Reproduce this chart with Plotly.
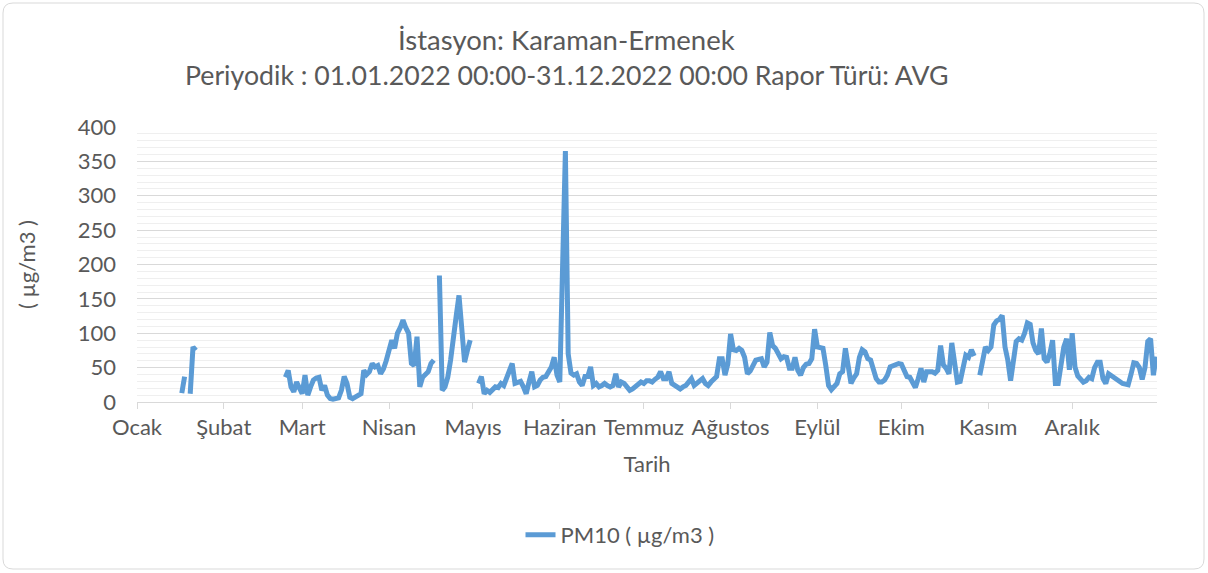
import pandas as pd
import plotly.graph_objects as go

# Daily PM10 averages for 2022 (None = no measurement)
ocak = [None]*16 + [13, 37, None, 12, 80, 75] + [None]*9
subat = [None]*22 + [36, 46, 22, 15, 29, 20]
mart = [12, 39, 10, 22, 32, 35, 36, 17, 24, 10, 5, 4, 5, 6, 17, 37, 27, 7, 5, 7,
        9, 12, 46, 40, 44, 56, 51, 53, 41, 48, 60]
nisan = [75, 90, 78, 100, 108, 119, 108, 100, 56, 53, 95, 22, 36, 41, 44, 56, 61, None, 184, 17,
         22, 36, 61, 99, 125, 155, 100, 58, 75, 90]
mayis = [None, None, 27, 37, 12, 17, 14, 18, 22, 21, 27, 24, 36, 49, 56, 27, 29, 30, 22, 12,
         29, 44, 22, 24, 32, 36, 37, 44, 51, 65, 39]
haziran = [29, 200, 365, 70, 42, 39, 41, 29, 24, 37, 37, 51, 24, 27, 22, 24, 27, 24, 22, 24,
           41, 22, 29, 27, 22, 17, 19, 22, 27, 29]
temmuz = [27, 31, 31, 29, 33, 36, 44, 34, 34, 44, 27, 24, 22, 19, 22, 24, 29, 34, 24, 27,
          29, 34, 27, 24, 29, 34, 37, 63, 63, 39, 55]
agustos = [99, 76, 75, 78, 75, 65, 41, 45, 53, 61, 62, 63, 51, 58, 101, 82, 78, 70, 63, 66,
           65, 49, 49, 65, 46, 39, 50, 55, 56, 63, 106]
eylul = [80, 79, 78, 53, 24, 18, 22, 27, 41, 44, 78, 50, 27, 35, 41, 65, 76, 73, 63, 61,
         45, 34, 29, 29, 32, 39, 51, 53, 55, 56]
ekim = [55, 44, 37, 36, 28, 21, 34, 49, 29, 44, 44, 44, 42, 46, 82, 54, 49, 41, 86, 50,
        29, 30, 53, 68, 65, 76, 67, None, 39, 61, 80]
kasim = [75, 80, 112, 118, 120, 126, 80, 61, 31, 60, 88, 92, 90, 100, 115, 113, 86, 75, 70, 107,
         63, 58, 70, 90, 27, 27, 50, 80, 92, 47]
aralik = [100, 51, 38, 32, 29, 31, 36, 34, 50, 58, 58, 34, 27, 41, 38, 36, 32, 29, 27, 26,
          25, 40, 57, 56, 50, 33, 50, 88, 92, 39, 66]

month_names = ["Ocak", "Şubat", "Mart", "Nisan", "Mayıs", "Haziran", "Temmuz",
               "Ağustos", "Eylül", "Ekim", "Kasım", "Aralık"]
month_starts = ["2022-01-01", "2022-02-01", "2022-03-01", "2022-04-01", "2022-05-01",
                "2022-06-01", "2022-07-01", "2022-08-01", "2022-09-01", "2022-10-01",
                "2022-11-01", "2022-12-01"]

values = ocak + subat + mart + nisan + mayis + haziran + temmuz + agustos + eylul + ekim + kasim + aralik
dates = pd.date_range("2022-01-01", periods=len(values), freq="D")

FONT = "Lato"
TXT = "#595959"
fig = go.Figure()
fig.add_trace(go.Scatter(
    x=dates, y=values, mode="lines", name="PM10 ( µg/m3 )",
    line=dict(color="#5b9bd5", width=5), connectgaps=False,
))

W, H = 1208, 573
L, R, T, B = 137, 51, 127, 171
pw, ph = W - L - R, H - T - B

def px(x):
    return (x - L) / pw

def py(y):
    return (H - B - y) / ph

# rounded chart border
x0, x1, y0, y1 = px(3), px(1204), py(569), py(3)
rx, ry = 10 / pw, 10 / ph
path = (f"M {x0+rx},{y1} L {x1-rx},{y1} Q {x1},{y1} {x1},{y1-ry} "
        f"L {x1},{y0+ry} Q {x1},{y0} {x1-rx},{y0} L {x0+rx},{y0} Q {x0},{y0} {x0},{y0+ry} "
        f"L {x0},{y1-ry} Q {x0},{y1} {x0+rx},{y1} Z")

fig.update_layout(
    width=W, height=H,
    margin=dict(l=L, r=R, t=T, b=B),
    paper_bgcolor="white", plot_bgcolor="white",
    font=dict(family=FONT, color=TXT, size=22),
    showlegend=True,
    legend=dict(orientation="h", x=px(620), xanchor="center", y=py(535), yanchor="middle",
                font=dict(size=22, color=TXT, family=FONT)),
    shapes=[dict(type="path", xref="paper", yref="paper", path=path,
                 line=dict(color="#d9d9d9", width=1), layer="below")],
    annotations=[
        dict(text="İstasyon: Karaman-Ermenek", xref="paper", yref="paper",
             x=px(566), y=py(40), xanchor="center", yanchor="middle", showarrow=False,
             font=dict(size=27.5, color=TXT, family=FONT)),
        dict(text="Periyodik : 01.01.2022 00:00-31.12.2022 00:00 Rapor Türü: AVG", xref="paper", yref="paper",
             x=px(567), y=py(75), xanchor="center", yanchor="middle", showarrow=False,
             font=dict(size=26.7, color=TXT, family=FONT)),
    ],
)
fig.update_xaxes(
    type="date", range=["2022-01-01", "2022-12-31 07:00"],
    tickvals=month_starts, ticktext=month_names,
    ticks="outside", ticklen=6, tickcolor="#d9d9d9",
    showline=True, linecolor="#d9d9d9", linewidth=1,
    showgrid=False, zeroline=False,
    tickfont=dict(size=22, color=TXT, family=FONT),
    title=dict(text="Tarih", font=dict(size=22, color=TXT, family=FONT), standoff=17),
)
fig.update_yaxes(
    range=[0, 400], dtick=50, tick0=0,
    showgrid=True, gridcolor="#d9d9d9", gridwidth=1,
    minor=dict(dtick=10, showgrid=True, gridcolor="#efefef", gridwidth=1),
    zeroline=False, showline=False, ticks="", ticklabelstandoff=20,
    tickfont=dict(size=22, color=TXT, family=FONT),
    title=dict(text="( µg/m3 )", font=dict(size=22, color=TXT, family=FONT), standoff=36),
)

fig.write_html("out.html", config={"displayModeBar": False},
               post_script="document.body.style.margin='0';")
